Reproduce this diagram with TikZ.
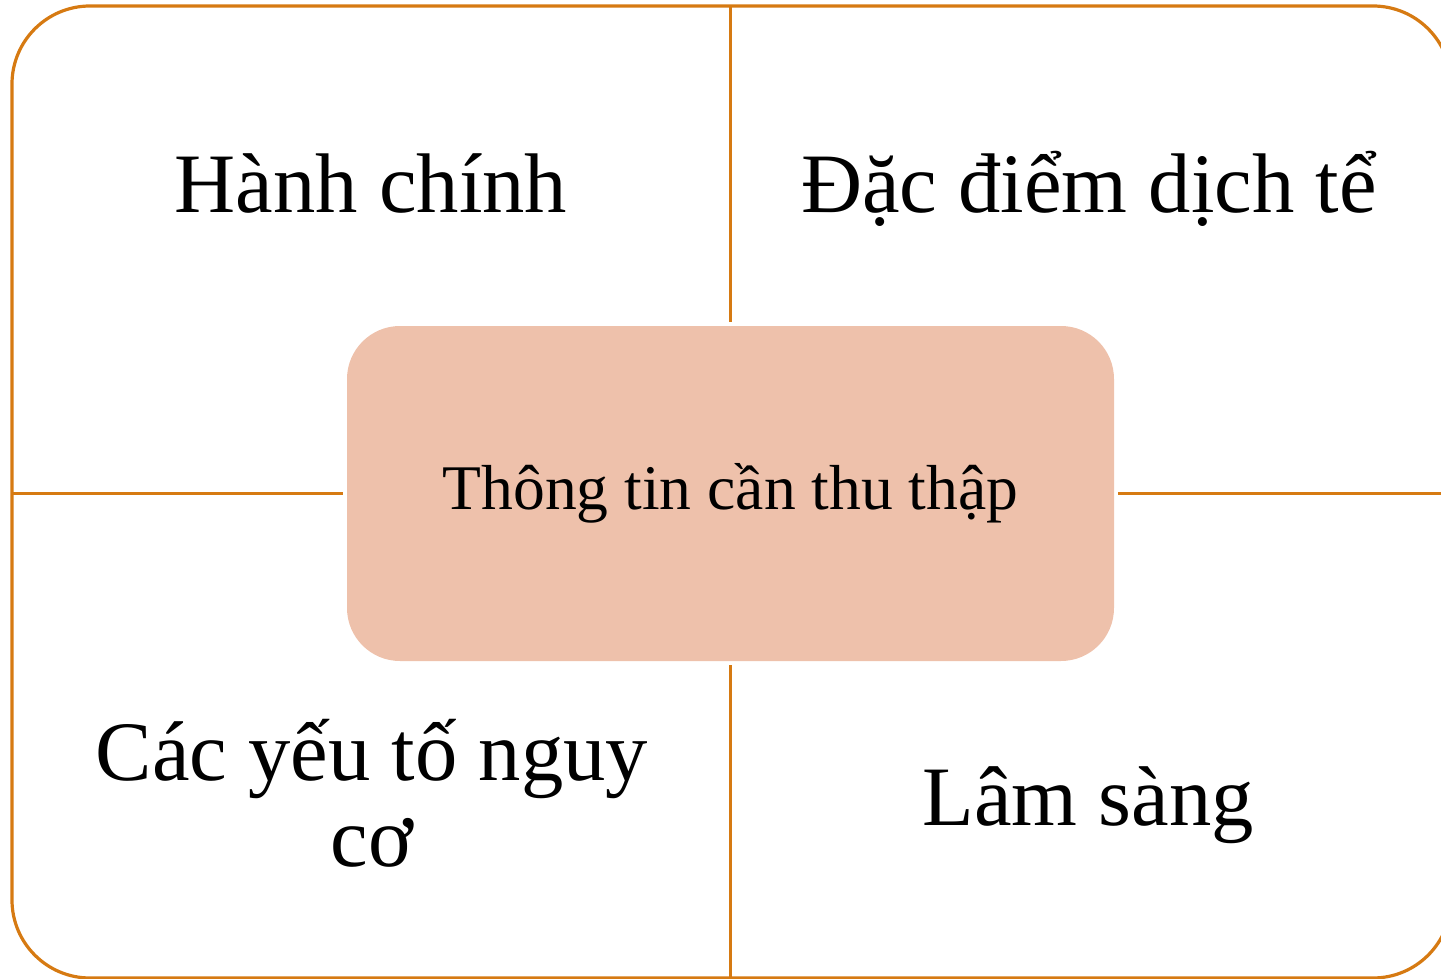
\documentclass[tikz,border=0pt]{standalone}
\usepackage{fontspec}
\setmainfont{Liberation Serif}
\definecolor{frameorange}{RGB}{214,122,18}
\definecolor{corefill}{RGB}{238,193,171}
\begin{document}
\begin{tikzpicture}[x=0.5pt,y=-0.5pt,
  divider/.style={draw=frameorange,line width=1.6pt},
  quadrant/.style={font=\fontsize{42.3}{43}\selectfont,align=center,inner sep=0pt,anchor=base},
  corebox/.style={rectangle,rounded corners=26.5pt,fill=corefill,draw=none,
    minimum width=383.5pt,minimum height=167.5pt,inner sep=0pt,
    font=\fontsize{31.8}{36}\selectfont}]
\useasboundingbox (0,0) rectangle (1441,979);

% outer frame, running past the right and bottom edges
\begin{scope}
  \clip (0,0) rectangle (1441,979);
  \draw[divider,rounded corners=39pt] (12,6) rectangle (1451,978);
\end{scope}

% central box
\node[corebox] (core) at (730.5,493.5) {\raisebox{-2pt}{Thông tin cần thu thập}};

% dividers between the four quadrants
\coordinate (topend) at (730.5,6);
\coordinate (botend) at (730.5,979);
\coordinate (leftend) at (12,493.5);
\coordinate (rightend) at (1451,493.5);
\draw[divider,shorten >=2pt] (topend) -- (core.north);
\draw[divider,shorten <=2pt] (core.south) -- (botend);
\draw[divider,shorten >=2pt] (leftend) -- (core.west);
\draw[divider,shorten <=2pt] (core.east) -- (rightend);

% quadrant labels (base of a two-line label is its last line)
\node[quadrant] (admin) at (371,213) {Hành chính};
\node[quadrant] (epi) at (1089,213) {Đặc điểm dịch tể};
\node[quadrant] (risk) at (372,866) {Các yếu tố nguy\\cơ};
\node[quadrant] (clinic) at (1088,825) {Lâm sàng};
\end{tikzpicture}
\end{document}
